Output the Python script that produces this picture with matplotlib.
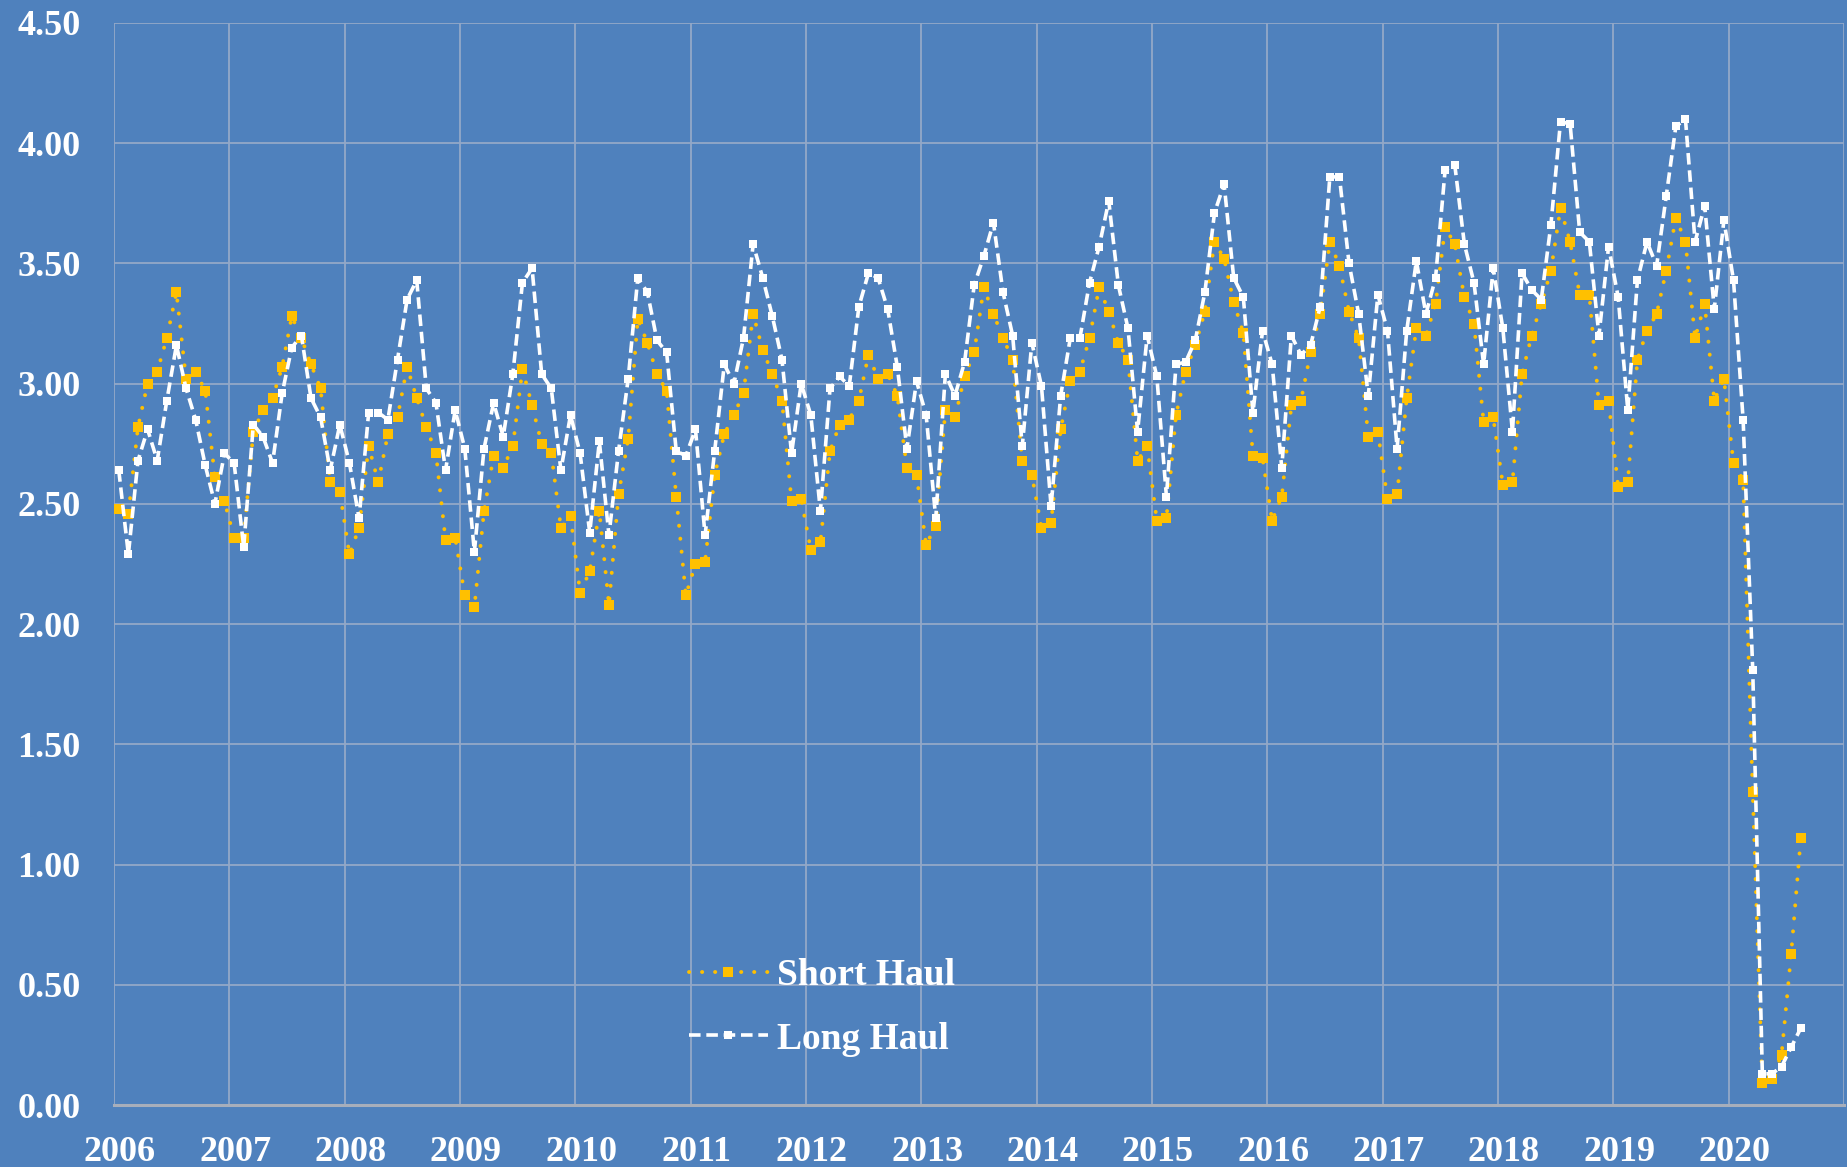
import numpy as np
import matplotlib
matplotlib.use('Agg')
import matplotlib.pyplot as plt
import matplotlib.transforms as mtransforms

# monthly values, Jan 2006 - Aug 2020
short_haul = [
    2.48, 2.46, 2.82, 3.00, 3.05, 3.19, 3.38, 3.02, 3.05, 2.97, 2.61, 2.51,  # 2006
    2.36, 2.36, 2.80, 2.89, 2.94, 3.07, 3.28, 3.19, 3.08, 2.98, 2.59, 2.55,  # 2007
    2.29, 2.40, 2.74, 2.59, 2.79, 2.86, 3.07, 2.94, 2.82, 2.71, 2.35, 2.36,  # 2008
    2.12, 2.07, 2.47, 2.70, 2.65, 2.74, 3.06, 2.91, 2.75, 2.71, 2.40, 2.45,  # 2009
    2.13, 2.22, 2.47, 2.08, 2.54, 2.77, 3.27, 3.17, 3.04, 2.97, 2.53, 2.12,  # 2010
    2.25, 2.26, 2.62, 2.79, 2.87, 2.96, 3.29, 3.14, 3.04, 2.93, 2.51, 2.52,  # 2011
    2.31, 2.34, 2.72, 2.83, 2.85, 2.93, 3.12, 3.02, 3.04, 2.95, 2.65, 2.62,  # 2012
    2.33, 2.41, 2.89, 2.86, 3.03, 3.13, 3.40, 3.29, 3.19, 3.10, 2.68, 2.62,  # 2013
    2.40, 2.42, 2.81, 3.01, 3.05, 3.19, 3.40, 3.30, 3.17, 3.10, 2.68, 2.74,  # 2014
    2.43, 2.44, 2.87, 3.05, 3.16, 3.30, 3.59, 3.52, 3.34, 3.21, 2.70, 2.69,  # 2015
    2.43, 2.53, 2.91, 2.93, 3.13, 3.29, 3.59, 3.49, 3.30, 3.19, 2.78, 2.80,  # 2016
    2.52, 2.54, 2.94, 3.23, 3.20, 3.33, 3.65, 3.58, 3.36, 3.25, 2.84, 2.86,  # 2017
    2.58, 2.59, 3.04, 3.20, 3.33, 3.47, 3.73, 3.59, 3.37, 3.37, 2.91, 2.93,  # 2018
    2.57, 2.59, 3.10, 3.22, 3.29, 3.47, 3.69, 3.59, 3.19, 3.33, 2.93, 3.02,  # 2019
    2.67, 2.60, 1.30, 0.09, 0.11, 0.21, 0.63, 1.11,                          # 2020
]
long_haul = [
    2.64, 2.29, 2.68, 2.81, 2.68, 2.93, 3.16, 2.98, 2.85, 2.66, 2.50, 2.71,  # 2006
    2.67, 2.32, 2.83, 2.78, 2.67, 2.96, 3.15, 3.20, 2.94, 2.86, 2.64, 2.83,  # 2007
    2.67, 2.44, 2.88, 2.88, 2.85, 3.10, 3.35, 3.43, 2.98, 2.92, 2.64, 2.89,  # 2008
    2.73, 2.30, 2.73, 2.92, 2.78, 3.04, 3.42, 3.48, 3.04, 2.98, 2.64, 2.87,  # 2009
    2.71, 2.38, 2.76, 2.37, 2.72, 3.02, 3.44, 3.38, 3.18, 3.13, 2.72, 2.70,  # 2010
    2.81, 2.37, 2.72, 3.08, 3.00, 3.19, 3.58, 3.44, 3.28, 3.10, 2.71, 3.00,  # 2011
    2.87, 2.47, 2.98, 3.03, 2.99, 3.32, 3.46, 3.44, 3.31, 3.07, 2.73, 3.01,  # 2012
    2.87, 2.44, 3.04, 2.95, 3.09, 3.41, 3.53, 3.67, 3.38, 3.20, 2.74, 3.17,  # 2013
    2.99, 2.49, 2.95, 3.19, 3.19, 3.42, 3.57, 3.76, 3.41, 3.23, 2.80, 3.20,  # 2014
    3.03, 2.53, 3.08, 3.09, 3.18, 3.38, 3.71, 3.83, 3.44, 3.36, 2.88, 3.22,  # 2015
    3.08, 2.65, 3.20, 3.12, 3.16, 3.32, 3.86, 3.86, 3.50, 3.29, 2.95, 3.37,  # 2016
    3.22, 2.73, 3.22, 3.51, 3.29, 3.44, 3.89, 3.91, 3.58, 3.42, 3.08, 3.48,  # 2017
    3.23, 2.80, 3.46, 3.39, 3.35, 3.66, 4.09, 4.08, 3.63, 3.59, 3.20, 3.57,  # 2018
    3.36, 2.89, 3.43, 3.59, 3.49, 3.78, 4.07, 4.10, 3.59, 3.74, 3.31, 3.68,  # 2019
    3.43, 2.85, 1.81, 0.13, 0.13, 0.16, 0.24, 0.32,                          # 2020
]
years = list(range(2006, 2021))
y_ticks = [0.0, 0.5, 1.0, 1.5, 2.0, 2.5, 3.0, 3.5, 4.0, 4.5]

BG = '#4F81BD'
ORANGE = '#FFC000'
GRID = '#93A8C8'

x = 2006 + (np.arange(len(short_haul)) + 0.5) / 12

fig = plt.figure(figsize=(18.47, 11.67), dpi=100, facecolor=BG)
ax = fig.add_axes([0.0617, 0.0531, 0.9367, 0.9272], facecolor=BG)

ax.plot(x, short_haul, color=ORANGE, lw=2.8, linestyle=(0, (0.05, 3.3)),
        dash_capstyle='round', marker='s', markersize=6.8, markeredgewidth=0,
        label='Short Haul', zorder=3)
ax.plot(x, long_haul, color='white', lw=2.6, linestyle=(0, (3.2, 1.6)),
        marker='s', markersize=5.8, markeredgewidth=0,
        label='Long Haul', zorder=4)

ax.set_xlim(2006, 2021)
ax.set_ylim(0, 4.5)
ax.set_xticks(years + [2021])
ax.set_xticklabels([str(y) for y in years] + [''])
ax.set_yticks(y_ticks)
ax.set_yticklabels(['%.2f' % v for v in y_ticks])
ax.grid(True, color=GRID, lw=1.3)
ax.set_axisbelow(True)

for s in ['left', 'right', 'top']:
    ax.spines[s].set_visible(False)
ax.spines['bottom'].set_color('#A7AEBB')
ax.spines['bottom'].set_linewidth(2.2)

ax.tick_params(length=0)
ax.tick_params(axis='y', pad=24)
ax.tick_params(axis='x', pad=22)
for lab in ax.get_yticklabels() + ax.get_xticklabels():
    lab.set_fontfamily('Liberation Serif')
    lab.set_fontweight('bold')
    lab.set_fontsize(26)
    lab.set_color('white')
offset = mtransforms.ScaledTranslation(0.06, 0, fig.dpi_scale_trans)
for lab in ax.get_xticklabels():
    lab.set_transform(lab.get_transform() + offset)

leg = ax.legend(loc='center left', bbox_to_anchor=(0.373, 0.1367),
                bbox_transform=fig.transFigure, frameon=False,
                handlelength=2.1, handletextpad=0.25, labelspacing=0.75,
                borderpad=0, borderaxespad=0, numpoints=1,
                prop={'family': 'Liberation Serif', 'weight': 'bold', 'size': 27})
for t in leg.get_texts():
    t.set_color('white')

fig.savefig('out.png', dpi=100, facecolor=BG)
